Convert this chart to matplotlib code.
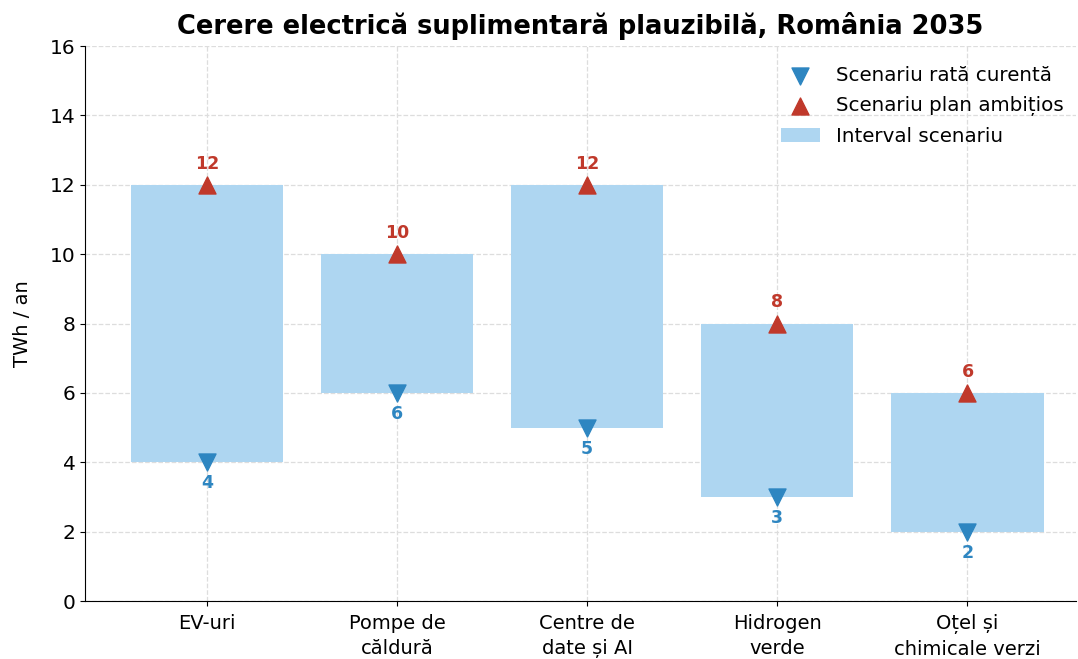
import numpy as np
import matplotlib
matplotlib.use("Agg")
import matplotlib.pyplot as plt

categories = ["EV-uri", "Pompe de\ncăldură", "Centre de\ndate și AI", "Hidrogen\nverde", "Oțel și\nchimicale verzi"]
low_vals = [4, 6, 5, 3, 2]
high_vals = [12, 10, 12, 8, 6]

bar_color = "#aed6f1"
blue = "#2e86c1"
red = "#c0392b"

fig, ax = plt.subplots(figsize=(10.78, 6.59), dpi=100)
x = np.arange(len(categories))
low = np.array(low_vals)
high = np.array(high_vals)

ax.bar(x, high - low, bottom=low, width=0.8, color=bar_color, label="Interval scenariu", zorder=2)
ax.scatter(x, low, marker="v", s=150, color=blue, label="Scenariu rată curentă", zorder=3)
ax.scatter(x, high, marker="^", s=150, color=red, label="Scenariu plan ambițios", zorder=3)

for xi, lo, hi in zip(x, low, high):
    ax.text(xi, lo - 0.35, f"{lo}", ha="center", va="top", color=blue,
            fontsize=12.5, fontweight="bold")
    ax.text(xi, hi + 0.35, f"{hi}", ha="center", va="bottom", color=red,
            fontsize=12.5, fontweight="bold")

ax.set_xticks(x)
ax.set_xticklabels(categories, fontsize=14, linespacing=1.4)
ax.tick_params(axis="x", pad=6)
ax.tick_params(axis="y", labelsize=14.5)
ax.set_ylim(0, 16)
ax.set_xlim(-0.64, 4.57)
ax.set_yticks(range(0, 17, 2))
ax.set_ylabel("TWh / an", fontsize=14, labelpad=13)
ax.set_title("Cerere electrică suplimentară plauzibilă, România 2035",
             fontsize=18.5, fontweight="bold", pad=9)
ax.grid(True, linestyle="--", color="#dddddd", linewidth=0.9, zorder=0)
ax.set_axisbelow(True)
ax.spines["top"].set_visible(False)
ax.spines["right"].set_visible(False)

handles, labels = ax.get_legend_handles_labels()
ax.legend(handles, labels, loc="upper right", frameon=False, fontsize=14.3,
          borderaxespad=0.2, handletextpad=0.8, labelspacing=0.55,
          bbox_to_anchor=(1.0, 0.985))

plt.subplots_adjust(left=0.079, right=0.998, top=0.93, bottom=0.088)
plt.savefig("out.png", dpi=100)
plt.close()
